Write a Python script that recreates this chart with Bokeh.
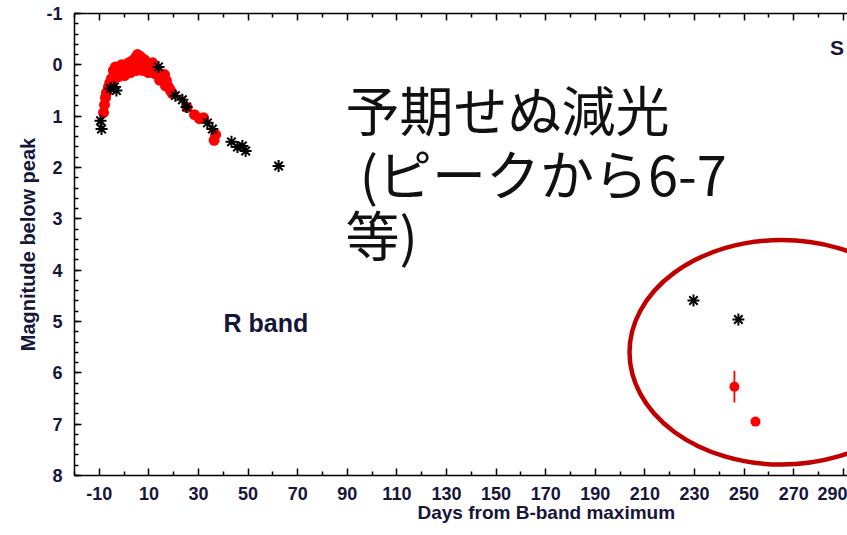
import numpy as np
from bokeh.plotting import figure
from bokeh.models import Range1d, FixedTicker, LinearAxis, Label, Title
from bokeh.embed import file_html
from bokeh.resources import INLINE

# ---- data ----
red_days = [-8.3, -7.9, -7.5, -7.1, -6.3, -5.1, -4.7, -4.3, -3.5, -2.7, -2.3, -1.9, -1.0, -0.2,
            0.2, 0.6, 1.8, 2.6, 2.6, 3.4, 4.6, 5.0, 5.4, 5.8, 6.6, 7.4, 7.4, 8.2, 9.4, 9.8,
            10.2, 11.5, 12.3, 12.7, 13.9, 14.7, 15.1, 16.3, 16.7, 17.1, 17.9, 18.7, 19.5,
            25.4, 28.4, 30.4, 32.0, 36.9, 36.3,
            -5.8, -3.0, 0.8, 3.8, 8.8, 11.0, 14.3]
red_mags = [0.93, 0.78, 0.64, 0.54, 0.43, 0.27, 0.31, 0.11, 0.04, 0.13, 0.23, 0.05, 0.0, 0.11,
            0.21, 0.04, -0.04, 0.05, 0.15, -0.08, -0.14, 0.11, -0.2, -0.06, -0.16, -0.02, 0.11,
            -0.1, -0.04, 0.15, 0.04, -0.04, 0.17, 0.07, 0.15, 0.27, 0.23, 0.19, 0.41, 0.31,
            0.43, 0.5, 0.56, 0.83, 0.97, 1.05, 1.03, 1.36, 1.47,
            0.35, 0.18, 0.12, 0.03, 0.06, 0.10, 0.30]

black_days = [-9.5, -9.1, -5.5, -3.9, -3.1, 13.9, 20.7, 23.5, 25.2, 33.6, 35.6,
              43.3, 45.7, 47.7, 49.0, 62.3, 229.6, 247.7]
black_mags = [1.09, 1.25, 0.46, 0.43, 0.50, 0.04, 0.60, 0.68, 0.82, 1.13, 1.25,
              1.50, 1.60, 1.58, 1.68, 1.97, 4.59, 4.96]

late_red_days = [246.1, 254.6]
late_red_mags = [6.27, 6.95]
late_red_err = [0.31, 0.0]

x_ticks = [-10, 10, 30, 50, 70, 90, 110, 130, 150, 170, 190, 210, 230, 250, 270, 290]
x_minor = [-20, 0, 20, 40, 60, 80, 100, 120, 140, 160, 180, 200, 220, 240, 260, 280]
y_ticks = [-1, 0, 1, 2, 3, 4, 5, 6, 7, 8]

note_lines = ["予期せぬ減光", " (ピークから6-7", "等)"]

TXT = "#16163a"

p = figure(width=847, height=535, output_backend="svg", toolbar_location=None,
           x_range=Range1d(-20, 291.7), y_range=Range1d(8, -1),
           x_axis_location=None, y_axis_location=None,
           min_border_left=74, min_border_right=0, min_border_top=13, min_border_bottom=60)
p.outline_line_color = None
p.xgrid.visible = False
p.ygrid.visible = False
p.background_fill_color = "white"
p.border_fill_color = "white"

yminor = [round(v, 1) for v in np.arange(-1, 8.01, 0.2)]

def style(ax):
    ax.axis_line_color = "black"
    ax.axis_line_width = 1.5
    ax.major_tick_line_width = 1.5
    ax.minor_tick_line_width = 1.5
    ax.major_tick_in = 7
    ax.major_tick_out = 0
    ax.minor_tick_in = 4
    ax.minor_tick_out = 0
    ax.major_label_text_font = "Liberation Sans"
    ax.major_label_text_font_style = "bold"
    ax.major_label_text_font_size = "18px"
    ax.major_label_text_color = TXT

xb = LinearAxis(ticker=FixedTicker(ticks=x_ticks, minor_ticks=x_minor))
style(xb)
xb.major_label_standoff = 11
xb.major_label_overrides = {t: str(t) for t in x_ticks}
p.add_layout(xb, "below")

xt = LinearAxis(ticker=FixedTicker(ticks=x_ticks, minor_ticks=x_minor))
style(xt)
xt.major_label_text_font_size = "1px"
xt.major_label_text_color = None
xt.major_label_standoff = 0
p.add_layout(xt, "above")

yl = LinearAxis(ticker=FixedTicker(ticks=y_ticks, minor_ticks=yminor))
style(yl)
yl.major_label_standoff = 12
yl.major_label_overrides = {t: str(t) for t in y_ticks}
yl.axis_label = "Magnitude below peak"
yl.axis_label_text_font = "Liberation Sans"
yl.axis_label_text_font_style = "bold"
yl.axis_label_text_font_size = "20px"
yl.axis_label_text_color = TXT
yl.axis_label_standoff = 4
p.add_layout(yl, "left")

xtitle = Title(text="Days from B-band maximum", align="left", offset=343,
               text_font="Liberation Sans", text_font_style="bold",
               text_font_size="19px", text_color=TXT, standoff=0)
try:
    xtitle.standoff = -5
except Exception:
    pass
p.add_layout(xtitle, "below")

# data
p.scatter(red_days, red_mags, marker="circle", size=11, fill_color="#ff0000", line_color=None)
p.scatter(black_days, black_mags, marker="asterisk", size=12, line_color="black", line_width=2)
p.segment(x0=late_red_days, y0=[m - e for m, e in zip(late_red_mags, late_red_err)],
          x1=late_red_days, y1=[m + e for m, e in zip(late_red_mags, late_red_err)],
          line_color="#ff0000", line_width=1.8)
p.scatter(late_red_days, late_red_mags, marker="circle", size=10, fill_color="#ff0000", line_color=None)

# highlight ellipse
p.ellipse(x=[265.1], y=[5.6], width=[122.6], height=[4.375], fill_color=None,
          line_color="#c00000", line_width=4.5)

# texts
p.add_layout(Label(x=40.1, y=5.02, text="R band", text_align="left", text_baseline="middle",
                   text_font="Liberation Sans", text_font_style="bold",
                   text_font_size="25px", text_color=TXT))
p.add_layout(Label(x=284.6, y=-0.34, text="S", text_align="left", text_baseline="middle",
                   text_font="Liberation Sans", text_font_style="bold",
                   text_font_size="21px", text_color=TXT))
for txt, xx, yy in zip(note_lines, [89.3, 95.0, 89.3], [0.86, 2.09, 3.29]):
    p.add_layout(Label(x=xx, y=yy, text=txt, text_align="left", text_baseline="middle",
                       text_font="Noto Sans CJK JP", text_font_size="54px",
                       text_color="#111111"))

open("out.html", "w").write(file_html(p, INLINE))
